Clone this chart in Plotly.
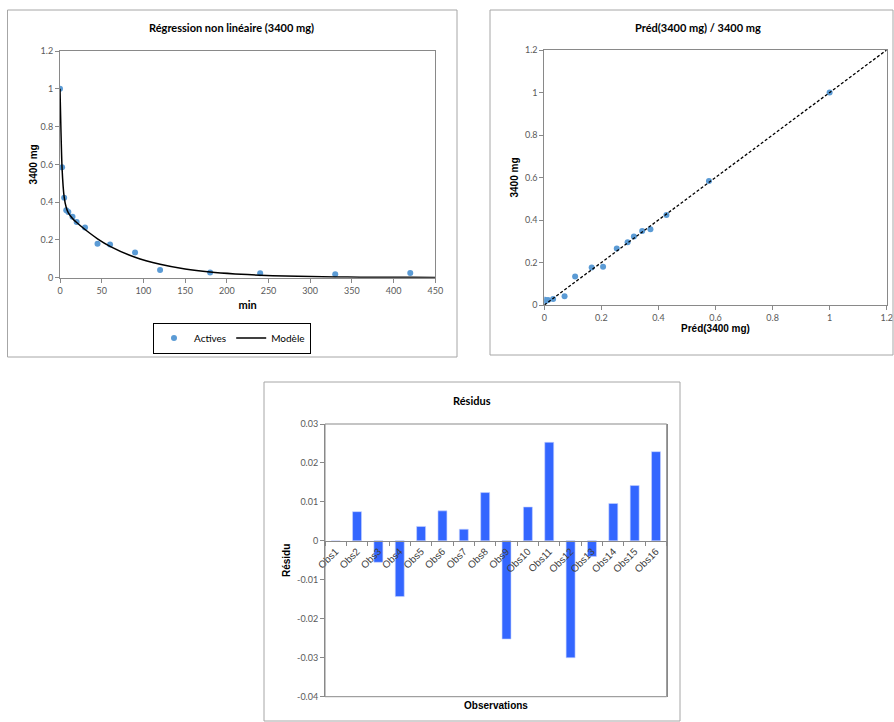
import plotly.graph_objects as go

# ---------------- data ----------------
time_min = [0, 2.5, 5, 7.5, 10, 15, 20, 30, 45, 60, 90, 120, 180, 240, 330, 420]
actives = [1.0, 0.584, 0.423, 0.357, 0.348, 0.322, 0.295, 0.266, 0.180, 0.176,
           0.134, 0.041, 0.028, 0.023, 0.018, 0.025]
model_x = [0, 2.5, 5, 7.5, 10, 15, 20, 30, 45, 60, 90, 120, 150, 180, 210, 240,
           270, 300, 330, 360, 390, 420, 450]
model_y = [1.0, 0.577, 0.427, 0.372, 0.343, 0.314, 0.292, 0.255, 0.206, 0.166,
           0.108, 0.071, 0.046, 0.030, 0.020, 0.013, 0.009, 0.006, 0.004, 0.003,
           0.002, 0.002, 0.001]
pred = [1.0, 0.577, 0.428, 0.372, 0.343, 0.314, 0.292, 0.254, 0.206, 0.166,
        0.108, 0.071, 0.031, 0.013, 0.004, 0.002]
identity = [0, 1.2]
obs_labels = ["Obs%d" % i for i in range(1, 17)]
residus = [0.0, 0.0075, -0.0055, -0.0143, 0.0037, 0.0077, 0.0030, 0.0124,
           -0.0252, 0.0087, 0.0253, -0.0300, -0.0040, 0.0096, 0.0142, 0.0229]
res_ticks = [0.03, 0.02, 0.01, 0, -0.01, -0.02, -0.03, -0.04]
res_ticktext = ["0.03", "0.02", "0.01", "0", "-0.01", "-0.02", "-0.03", "-0.04"]

W, H = 894, 722
def px(v):
    return v / W
def py(v):
    return 1 - v / H

CAL = "Lato, 'Open Sans', sans-serif"
ARI = "'Liberation Sans', Arial, sans-serif"
TICKC = "#595959"
AXC = "#898989"

fig = go.Figure()

# chart 1
fig.add_trace(go.Scatter(x=time_min, y=actives, mode="markers", name="Actives",
                         marker=dict(color="#5B9BD5", size=6), xaxis="x", yaxis="y"))
fig.add_trace(go.Scatter(x=model_x, y=model_y, mode="lines", name="Modèle",
                         line=dict(color="black", width=1.5, shape="spline", smoothing=0.6),
                         xaxis="x", yaxis="y"))
# chart 2
fig.add_trace(go.Scatter(x=pred, y=actives, mode="markers", showlegend=False,
                         marker=dict(color="#5B9BD5", size=6), xaxis="x2", yaxis="y2"))
fig.add_trace(go.Scatter(x=identity, y=identity, mode="lines", showlegend=False,
                         line=dict(color="black", width=1.3, dash="3px,2px"),
                         xaxis="x2", yaxis="y2"))
# chart 3
fig.add_trace(go.Bar(x=obs_labels, y=residus, showlegend=False,
                     marker=dict(color="#3366FF", line=dict(color="#C8D4FF", width=0.6)),
                     xaxis="x3", yaxis="y3"))

base_ax = dict(showgrid=False, zeroline=False, showline=True, linecolor=AXC,
               linewidth=1, ticks="outside", tickcolor=AXC, ticklen=4, automargin=False,
               tickfont=dict(family=CAL, size=9, color=TICKC))

zero_pos = py(424 + (0.03 / 0.07) * (696.7 - 424))

fig.update_layout(
    template="none",
    width=W, height=H, margin=dict(l=0, r=0, t=0, b=0, pad=0),
    paper_bgcolor="white", plot_bgcolor="white",
    bargap=0.58,
    xaxis=dict(base_ax, domain=[px(60), px(435.3)], range=[0, 450], dtick=50,
               mirror=True, anchor="y",
               title=dict(text="<b>min</b>", font=dict(family=CAL, size=11, color="black"),
                          standoff=6)),
    yaxis=dict(base_ax, domain=[py(277.7), py(51)], range=[0, 1.2], dtick=0.2,
               mirror=True, anchor="x",
               title=dict(text="<b>3400 mg</b>", font=dict(family=ARI, size=10, color="black"),
                          standoff=1)),
    xaxis2=dict(base_ax, domain=[px(544.3), px(886.7)], range=[0, 1.2], dtick=0.2,
                mirror=True, anchor="y2",
                title=dict(text="<b>Préd(3400 mg)</b>", font=dict(family=ARI, size=10, color="black"),
                           standoff=0)),
    yaxis2=dict(base_ax, domain=[py(305), py(50)], range=[0, 1.2], dtick=0.2,
                mirror=True, anchor="x2",
                title=dict(text="<b>3400 mg</b>", font=dict(family=ARI, size=10, color="black"),
                           standoff=4)),
    xaxis3=dict(base_ax, domain=[px(325), px(666.7)], anchor="free", position=zero_pos,
                tickson="boundaries", tickangle=-45, mirror=False,
                tickfont=dict(family=ARI, size=10, color="#404040")),
    yaxis3=dict(base_ax, domain=[py(696.7), py(424)], range=[-0.04, 0.03],
                tickvals=res_ticks, ticktext=res_ticktext, anchor="x3", mirror=True,
                title=dict(text="<b>Résidu</b>", font=dict(family=ARI, size=10, color="black"),
                           standoff=4)),
    legend=dict(orientation="h", x=px(232), xanchor="center", y=py(338), yanchor="middle",
                bordercolor="black", borderwidth=1, bgcolor="white",
                font=dict(family=CAL, size=10, color="black"),
                itemwidth=30, tracegroupgap=0),
    shapes=[
        dict(type="rect", xref="paper", yref="paper", x0=px(7.5), x1=px(457), y0=py(357), y1=py(10),
             line=dict(color="#A6A6A6", width=1)),
        dict(type="rect", xref="paper", yref="paper", x0=px(490), x1=px(893), y0=py(355), y1=py(10),
             line=dict(color="#A6A6A6", width=1)),
        dict(type="rect", xref="paper", yref="paper", x0=px(264), x1=px(680), y0=py(721), y1=py(382),
             line=dict(color="#A6A6A6", width=1)),
        dict(type="rect", xref="x3 domain", yref="y3 domain", x0=0, x1=1, y0=0, y1=1,
             line=dict(color=AXC, width=1), layer="above"),
    ],
    annotations=[
        dict(text="<b>Régression non linéaire (3400 mg)</b>", x=px(232), y=py(28),
             xref="paper", yref="paper", showarrow=False, xanchor="center", yanchor="middle",
             font=dict(family=CAL, size=11, color="black")),
        dict(text="<b>Préd(3400 mg) / 3400 mg</b>", x=px(698), y=py(28),
             xref="paper", yref="paper", showarrow=False, xanchor="center", yanchor="middle",
             font=dict(family=CAL, size=11, color="black")),
        dict(text="<b>Résidus</b>", x=px(472), y=py(400),
             xref="paper", yref="paper", showarrow=False, xanchor="center", yanchor="middle",
             font=dict(family=CAL, size=11, color="black")),
        dict(text="<b>Observations</b>", x=px(496), y=py(705),
             xref="paper", yref="paper", showarrow=False, xanchor="center", yanchor="middle",
             font=dict(family=ARI, size=10, color="black")),
    ],
)

fig.write_html("out.html", config={"displayModeBar": False},
               post_script="document.body.style.margin='0';document.body.style.overflow='hidden';")
